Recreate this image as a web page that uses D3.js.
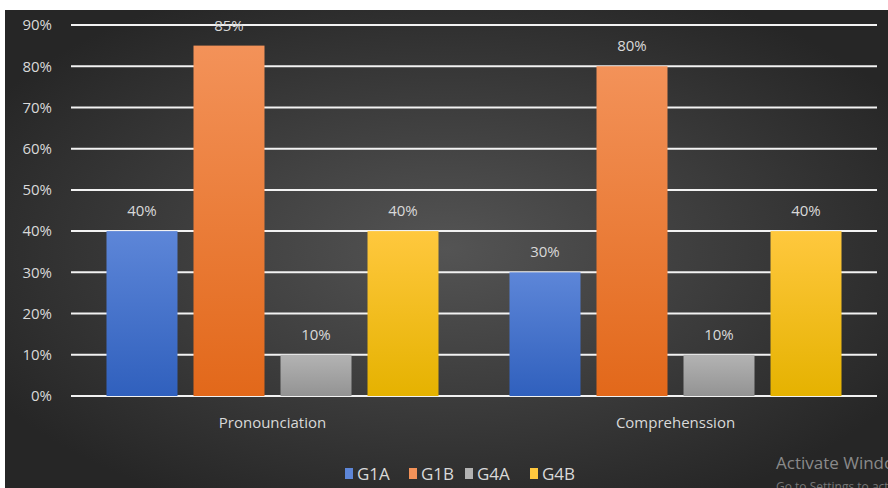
<!DOCTYPE html>
<html>
<head>
<meta charset="utf-8">
<script src="https://cdn.jsdelivr.net/npm/d3@7"></script>
<style>
  body { margin: 0; background: #fff; }
  text { font-family: "Open Sans", "Noto Sans", sans-serif; }
</style>
</head>
<body>
<script>
// data
let categories = ["Pronounciation", "Comprehenssion"];
let groups = ["G1A", "G1B", "G4A", "G4B"];
let g1a = [40, 30];
let g1b = [85, 80];
let g4a = [10, 10];
let g4b = [40, 40];
let yTicks = [0, 10, 20, 30, 40, 50, 60, 70, 80, 90];

let seriesValues = { G1A: g1a, G1B: g1b, G4A: g4a, G4B: g4b };
let data = categories.map((c, i) => ({
  category: c,
  values: groups.map(g => ({ group: g, value: seriesValues[g][i] }))
}));

let W = 888, H = 488;
let margins = { left: 71, top: 25, right: 11, bottom: 92 };
let width = W - margins.left - margins.right;
let height = H - margins.top - margins.bottom;

let svg = d3.select("body").append("svg")
  .attr("width", W)
  .attr("height", H);

let defs = svg.append("defs");
// dark radial background
let bg = defs.append("radialGradient").attr("id", "bg")
  .attr("cx", "50%").attr("cy", "50%").attr("r", "60%");
bg.append("stop").attr("offset", "0%").attr("stop-color", "#545454");
bg.append("stop").attr("offset", "100%").attr("stop-color", "#262626");

// bar gradients (top -> bottom)
let colors = {
  G1A: ["#5d86d8", "#3060bd"],
  G1B: ["#f39259", "#e2681a"],
  G4A: ["#b3b3b3", "#939393"],
  G4B: ["#ffc83e", "#e5b200"]
};
groups.forEach(g => {
  let lg = defs.append("linearGradient").attr("id", "grad" + g)
    .attr("x1", 0).attr("y1", 0).attr("x2", 0).attr("y2", 1);
  lg.append("stop").attr("offset", "0%").attr("stop-color", colors[g][0]);
  lg.append("stop").attr("offset", "100%").attr("stop-color", colors[g][1]);
});

svg.append("rect")
  .attr("x", 5).attr("y", 10)
  .attr("width", W - 5).attr("height", H - 10)
  .attr("fill", "url(#bg)");

// the scales
let x0 = d3.scaleBand()
  .domain(categories)
  .range([0, width])
  .padding(0);
let x1 = d3.scaleBand()
  .domain(groups)
  .range([0, x0.bandwidth()])
  .paddingInner(0.184)
  .paddingOuter(0.408);
let yScale = d3.scaleLinear()
  .domain([0, 90])
  .range([height, 0]);

let container = svg.append("g")
  .attr("transform", `translate(${margins.left}, ${margins.top})`);

// gridlines
container.append("g")
  .selectAll("line")
  .data(yTicks)
  .join("line")
  .attr("x1", 0)
  .attr("x2", width)
  .attr("y1", d => yScale(d))
  .attr("y2", d => yScale(d))
  .attr("stroke", "#f2f2f2")
  .attr("stroke-width", 2);

// y-axis labels
let yAxis = d3.axisLeft(yScale)
  .tickValues(yTicks)
  .tickSize(0)
  .tickPadding(19)
  .tickFormat(d => d + "%");
let yAxisG = container.append("g").call(yAxis);
yAxisG.select(".domain").remove();
yAxisG.selectAll("text")
  .attr("fill", "#d9d9d9")
  .style("font-size", "15px");

// bars
let groupSel = container.selectAll("g.cat")
  .data(data)
  .join("g")
  .classed("cat", true)
  .attr("transform", d => `translate(${x0(d.category)}, 0)`);

groupSel.selectAll("rect")
  .data(d => d.values)
  .join("rect")
  .attr("x", d => x1(d.group))
  .attr("y", d => yScale(d.value))
  .attr("width", x1.bandwidth())
  .attr("height", d => yScale(0) - yScale(d.value))
  .attr("fill", d => `url(#grad${d.group})`);

groupSel.selectAll("text.val")
  .data(d => d.values)
  .join("text")
  .classed("val", true)
  .attr("x", d => x1(d.group) + x1.bandwidth() / 2)
  .attr("y", d => yScale(d.value) - 15)
  .attr("text-anchor", "middle")
  .attr("fill", "#d9d9d9")
  .style("font-size", "15px")
  .text(d => d.value + "%");

// x-axis labels
let xAxis = d3.axisBottom(x0).tickSize(0).tickPadding(21);
let xAxisG = container.append("g")
  .attr("transform", `translate(0, ${height})`)
  .call(xAxis);
xAxisG.select(".domain").remove();
xAxisG.selectAll("text")
  .attr("fill", "#d9d9d9")
  .style("font-size", "15px");

// legend
let legendX = [345, 409, 465, 530];
let legend = svg.append("g")
  .attr("transform", `translate(0, ${H - 15})`);
let items = legend.selectAll("g")
  .data(groups)
  .join("g")
  .attr("transform", (d, i) => `translate(${legendX[i]}, 0)`);
items.append("rect")
  .attr("x", 0).attr("y", -5)
  .attr("width", 8).attr("height", 11)
  .attr("fill", d => colors[d][0]);
items.append("text")
  .attr("x", 12).attr("y", 7)
  .attr("fill", "#d9d9d9")
  .style("font-size", "17px")
  .text(d => d);

// windows watermark (cut off at the right edge, as in the screenshot)
svg.append("text")
  .attr("x", 776).attr("y", 469)
  .attr("fill", "#8a8a8a")
  .style("font-size", "17px")
  .text("Activate Windows");
svg.append("text")
  .attr("x", 776).attr("y", 491)
  .attr("fill", "#777")
  .style("font-size", "12px")
  .text("Go to Settings to activate Windows.");
</script>
</body>
</html>
